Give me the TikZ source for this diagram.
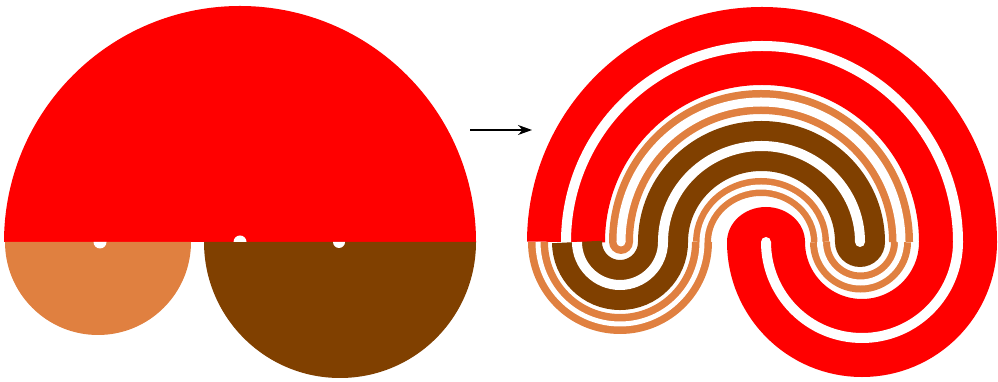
\documentclass[tikz,border=0pt]{standalone}
\usepackage{tikz}
\usetikzlibrary{arrows.meta}
\definecolor{labred}{RGB}{255,0,0}
\definecolor{laborange}{RGB}{224,128,64}
\definecolor{labbrown}{RGB}{128,64,0}
\tikzset{
  band/.style={line width=#1,line cap=butt},
  wall/.style={white,line width=#1,line cap=butt},
  cut/.style={fill=white},
  turn/.style={-{Stealth[length=14pt,width=10pt]},line width=1.5pt},
}
\begin{document}
\begin{tikzpicture}[x=1pt,y=1pt]
  \useasboundingbox (0,0) rectangle (998,382);
  % three half disks
  \fill[labred] (4,140) arc[start angle=180,end angle=0,radius=236] -- cycle;
  \fill[laborange] (5,140) arc[start angle=180,end angle=360,radius=93] -- cycle;
  \fill[labbrown] (204,140) arc[start angle=180,end angle=360,radius=136] -- cycle;
  \fill[cut] (93.5,140) arc[start angle=180,end angle=360,radius=6.5] -- cycle;
  \fill[cut] (233.5,140) arc[start angle=180,end angle=0,radius=6.5] -- cycle;
  \fill[cut] (333,140) arc[start angle=180,end angle=360,radius=6] -- cycle;
  \coordinate (from) at (470,252);
  \coordinate (to) at (532,252);
  \draw[turn] (from) -- (to);
  % red band
  \draw[labred,band=78] (566,140) arc[start angle=180,end angle=0,radius=196]
    arc[start angle=0,end angle=-180,radius=96];
  \fill[labred] (766,140) ellipse[x radius=39,y radius=35];
  \draw[wall=10] (566,140) arc[start angle=180,end angle=0,radius=196]
    arc[start angle=0,end angle=-180,radius=96];
  \fill[cut] (766,140) circle[radius=5];
  % brown band
  \draw[labbrown,band=50] (577,140) arc[start angle=180,end angle=360,radius=43]
    arc[start angle=180,end angle=0,x radius=98.5,y radius=96];
  \fill[labbrown] (860,140) circle[radius=25];
  \draw[wall=10] (577,140) arc[start angle=180,end angle=360,radius=43]
    arc[start angle=180,end angle=0,x radius=98.5,y radius=96];
  \fill[cut] (860,140) circle[radius=5];
  % orange band
  \draw[laborange,band=20] (538,140) arc[start angle=180,end angle=360,radius=82];
  \draw[laborange,band=18] (702,140) arc[start angle=180,end angle=0,x radius=59,y radius=55];
  \draw[laborange,band=20] (820,140) arc[start angle=180,end angle=360,radius=40.5];
  \draw[laborange,band=24] (901,140) arc[start angle=0,end angle=180,radius=140];
  \fill[laborange] (621,140) circle[radius=12];
  \draw[wall=5] (538,140) arc[start angle=180,end angle=360,radius=82];
  \draw[wall=5] (702,140) arc[start angle=180,end angle=0,x radius=59,y radius=55];
  \draw[wall=6] (820,140) arc[start angle=180,end angle=360,radius=40.5];
  \draw[wall=9] (901,140) arc[start angle=0,end angle=180,radius=140];
  \fill[cut] (621,140) circle[radius=4.5];
\end{tikzpicture}
\end{document}
